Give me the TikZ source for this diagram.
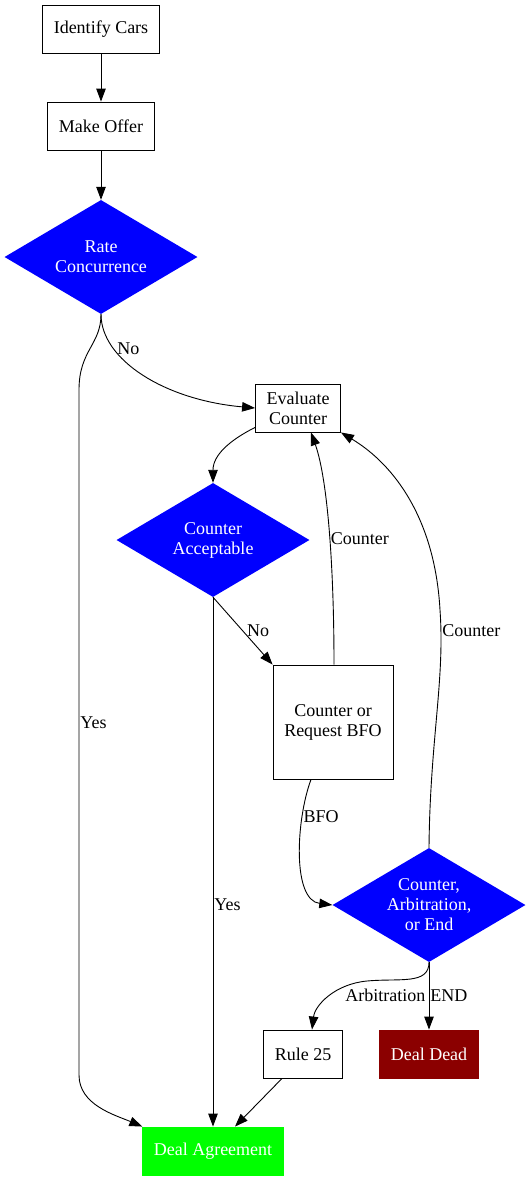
\documentclass[tikz,border=0pt]{standalone}
\usepackage{fontspec}
\setmainfont{Liberation Serif}
\usetikzlibrary{shapes.geometric,arrows.meta,positioning}
\definecolor{darkred}{RGB}{139,0,0}

\begin{document}
\begin{tikzpicture}[
    x=1pt, y=-1pt,
    font=\fontsize{18}{20}\selectfont,
    block/.style={rectangle, draw, line width=0.9pt, align=center, minimum height=48pt, inner xsep=11pt},
    decision/.style={diamond, fill=blue, text=white, align=center, inner sep=1pt, aspect=1.69, minimum width=193pt, minimum height=114pt},
    goodblock/.style={block, draw=green, fill=green, text=white},
    deadblock/.style={block, draw=darkred, fill=darkred, text=white},
    line/.style={draw, line width=0.9pt, -{Triangle[length=13pt,width=9.5pt]}},
    lbl/.style={inner sep=1pt}
]
\useasboundingbox (0,0) rectangle (531,1181);

% ----------------------------
% Nodes
% ----------------------------
\node[block] (cars) at (101,29) {Identify Cars};
\node[block] (offer) at (101,126) {Make Offer};
\node[decision] (rate) at (101,257) {Rate\\Concurrence};

\node[block] (eval) at (298,408) {Evaluate\\Counter};
\node[decision] (accept) at (213,540) {Counter\\Acceptable};
\node[block, minimum width=120pt, minimum height=114pt] (reply) at (333,722) {Counter or\\Request BFO};

\node[decision] (choice) at (429,905) {Counter,\\Arbitration,\\or End};
\node[block] (rule) at (303,1054) {Rule 25};
\node[deadblock] (dead) at (429,1054) {Deal Dead};

\node[goodblock] (deal) at (213,1151) {Deal Agreement};

% ----------------------------
% Edges
% ----------------------------
\path[line] (cars) -- (offer);
\path[line] (offer) -- (rate);

% Rate concurrence outcomes
\path[line] (rate.south) .. controls (101,360) and (165,400) ..
    node[lbl, pos=0.22, anchor=west, xshift=6pt, yshift=-5pt] {No} (eval.west);
\path[line] (rate.south) .. controls (101,345) and (79,350) .. (79,390)
    -- node[lbl, pos=0.485, anchor=west] {Yes} (79,1075)
    .. controls (79,1105) and (115,1115) .. (deal.north west);

\path[line] ([yshift=5pt]eval.south west) .. controls (230,440) and (213,455) .. (accept.north);

% Counter acceptable outcomes
\path[line] (accept.south) -- node[lbl, pos=0.5, anchor=west, xshift=3pt] {No} (reply.north west);
\path[line] (accept.south) -- node[lbl, pos=0.58, anchor=west] {Yes} (deal.north);

% Counter or BFO
\path[line] ([xshift=1pt]reply.north) .. controls (334,570) and (328,480) ..
    node[lbl, pos=0.47, anchor=west] {Counter} ([xshift=13pt]eval.south);
\path[line] ([xshift=-22pt]reply.south) .. controls (296,820) and (292,900) ..
    node[lbl, pos=0.26, anchor=west] {BFO} (choice.west);

% Final choice
\path[line] (choice.north) .. controls (430,740) and (445,680) ..
    node[lbl, pos=0.9, anchor=west] {Counter} (440,610)
    .. controls (435,520) and (395,465) .. (eval.south east);
\path[line] (choice.south) .. controls (429,985) and (400,978) ..
    node[lbl, pos=1, anchor=north west, xshift=-23pt, yshift=-7pt] {Arbitration} (367,981)
    .. controls (335,984) and (315,1005) .. ([xshift=9pt]rule.north);
\path[line] (choice.south) -- node[lbl, pos=0.5, anchor=west] {END} (dead.north);

\path[line] ([xshift=-21pt]rule.south) -- ([xshift=22pt]deal.north);

\end{tikzpicture}
\end{document}
